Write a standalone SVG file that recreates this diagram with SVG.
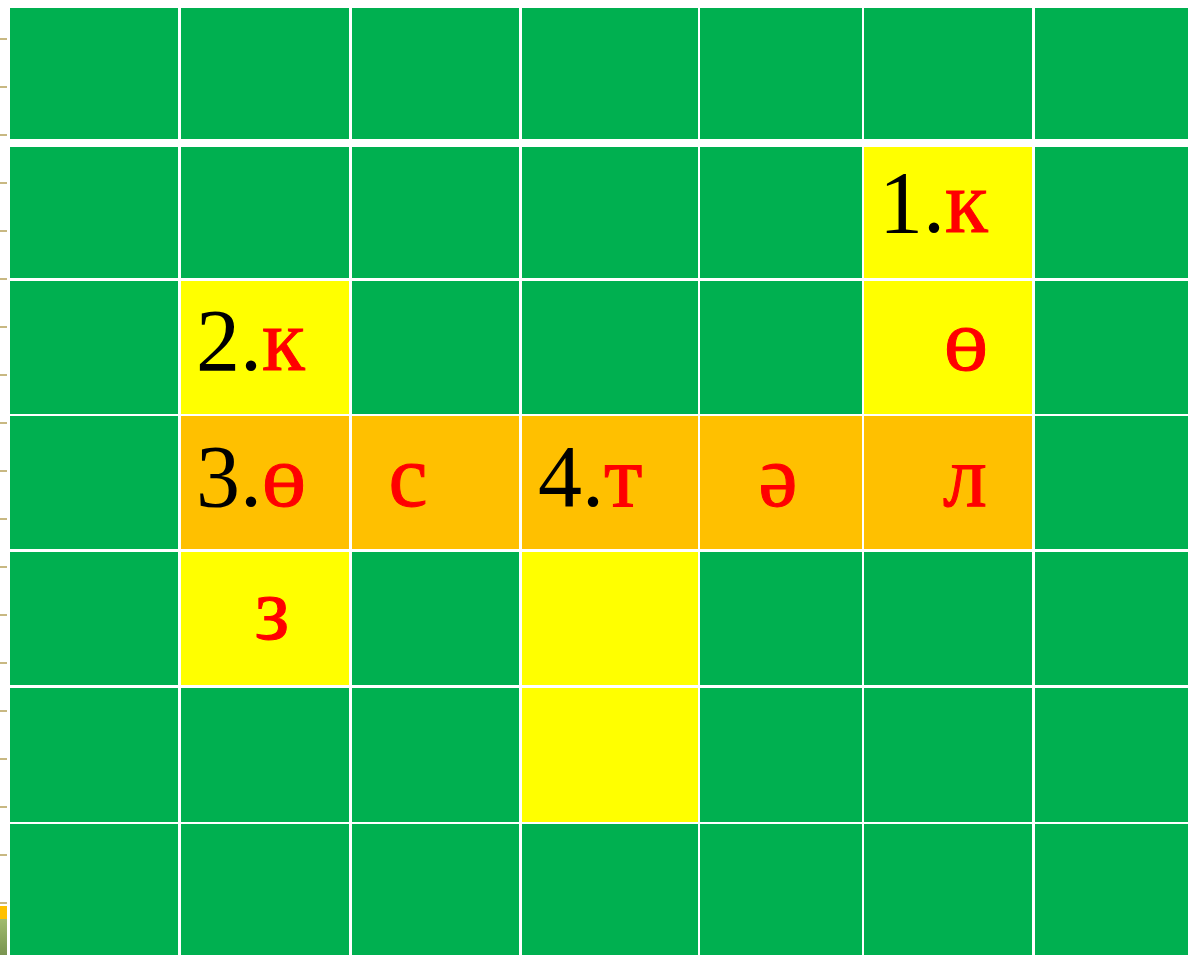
<svg xmlns="http://www.w3.org/2000/svg" width="1188" height="955" viewBox="0 0 1188 955">
<style>
.g{fill:#00B050}
.y{fill:#FFFF00}
.o{fill:#FFC000}
.tk{fill:#C8B882}
.t{font-family:"Liberation Serif","Times New Roman",serif;font-size:88px;fill:#000}
.r{font-family:"Liberation Serif","Times New Roman",serif;font-size:88px;font-weight:normal;fill:#FF0000;stroke:#FF0000;stroke-width:1}
.rc{text-anchor:middle}
</style>
<defs>
<linearGradient id="olive" x1="0" y1="0" x2="0" y2="1">
<stop offset="0" stop-color="#A0BB6E"/>
<stop offset="1" stop-color="#7A9450"/>
</linearGradient>
</defs>
<rect x="0" y="0" width="1188" height="955" fill="#FFFFFF"/>
<g id="margin-ticks">
<rect class="tk" x="0" y="38" width="7" height="2"/>
<rect class="tk" x="0" y="86" width="7" height="2"/>
<rect class="tk" x="0" y="134" width="7" height="2"/>
<rect class="tk" x="0" y="182" width="7" height="2"/>
<rect class="tk" x="0" y="230" width="7" height="2"/>
<rect class="tk" x="0" y="278" width="7" height="2"/>
<rect class="tk" x="0" y="326" width="7" height="2"/>
<rect class="tk" x="0" y="374" width="7" height="2"/>
<rect class="tk" x="0" y="422" width="7" height="2"/>
<rect class="tk" x="0" y="470" width="7" height="2"/>
<rect class="tk" x="0" y="518" width="7" height="2"/>
<rect class="tk" x="0" y="566" width="7" height="2"/>
<rect class="tk" x="0" y="614" width="7" height="2"/>
<rect class="tk" x="0" y="662" width="7" height="2"/>
<rect class="tk" x="0" y="710" width="7" height="2"/>
<rect class="tk" x="0" y="758" width="7" height="2"/>
<rect class="tk" x="0" y="806" width="7" height="2"/>
<rect class="tk" x="0" y="854" width="7" height="2"/>
<rect class="tk" x="0" y="902" width="7" height="2"/>
<rect x="0" y="906" width="7" height="13" fill="#FFC000"/>
<rect x="0" y="919" width="7" height="36" fill="url(#olive)"/>
</g>
<g id="row0">
<rect id="c0-0" class="g" x="10" y="8" width="168" height="131"/>
<rect id="c0-1" class="g" x="181" y="8" width="168" height="131"/>
<rect id="c0-2" class="g" x="352" y="8" width="167" height="131"/>
<rect id="c0-3" class="g" x="522" y="8" width="176" height="131"/>
<rect id="c0-4" class="g" x="700" y="8" width="162" height="131"/>
<rect id="c0-5" class="g" x="864" y="8" width="168" height="131"/>
<rect id="c0-6" class="g" x="1035" y="8" width="153" height="131"/>
</g>
<g id="row1">
<rect id="c1-0" class="g" x="10" y="147" width="168" height="131"/>
<rect id="c1-1" class="g" x="181" y="147" width="168" height="131"/>
<rect id="c1-2" class="g" x="352" y="147" width="167" height="131"/>
<rect id="c1-3" class="g" x="522" y="147" width="176" height="131"/>
<rect id="c1-4" class="g" x="700" y="147" width="162" height="131"/>
<g id="c1-5"><rect class="y" x="864" y="147" width="168" height="131"/><text class="t" x="879" y="232">1.<tspan class="r">к</tspan></text></g>
<rect id="c1-6" class="g" x="1035" y="147" width="153" height="131"/>
</g>
<g id="row2">
<rect id="c2-0" class="g" x="10" y="281" width="168" height="133"/>
<g id="c2-1"><rect class="y" x="181" y="281" width="168" height="133"/><text class="t" x="196" y="370">2.<tspan class="r">к</tspan></text></g>
<rect id="c2-2" class="g" x="352" y="281" width="167" height="133"/>
<rect id="c2-3" class="g" x="522" y="281" width="176" height="133"/>
<rect id="c2-4" class="g" x="700" y="281" width="162" height="133"/>
<g id="c2-5"><rect class="y" x="864" y="281" width="168" height="133"/><text class="r rc" x="966" y="370">ө</text></g>
<rect id="c2-6" class="g" x="1035" y="281" width="153" height="133"/>
</g>
<g id="row3">
<rect id="c3-0" class="g" x="10" y="416" width="168" height="133"/>
<g id="c3-1"><rect class="o" x="181" y="416" width="168" height="133"/><text class="t" x="196" y="506">3.<tspan class="r">ө</tspan></text></g>
<g id="c3-2"><rect class="o" x="352" y="416" width="167" height="133"/><text class="r rc" x="408" y="506">с</text></g>
<g id="c3-3"><rect class="o" x="522" y="416" width="176" height="133"/><text class="t" x="538" y="506">4.<tspan class="r">т</tspan></text></g>
<g id="c3-4"><rect class="o" x="700" y="416" width="162" height="133"/><text class="r rc" x="778" y="506">ә</text></g>
<g id="c3-5"><rect class="o" x="864" y="416" width="168" height="133"/><text class="r rc" x="965" y="506">л</text></g>
<rect id="c3-6" class="g" x="1035" y="416" width="153" height="133"/>
</g>
<g id="row4">
<rect id="c4-0" class="g" x="10" y="552" width="168" height="133"/>
<g id="c4-1"><rect class="y" x="181" y="552" width="168" height="133"/><text class="r rc" x="272" y="639">з</text></g>
<rect id="c4-2" class="g" x="352" y="552" width="167" height="133"/>
<rect id="c4-3" class="y" x="522" y="552" width="176" height="133"/>
<rect id="c4-4" class="g" x="700" y="552" width="162" height="133"/>
<rect id="c4-5" class="g" x="864" y="552" width="168" height="133"/>
<rect id="c4-6" class="g" x="1035" y="552" width="153" height="133"/>
</g>
<g id="row5">
<rect id="c5-0" class="g" x="10" y="688" width="168" height="134"/>
<rect id="c5-1" class="g" x="181" y="688" width="168" height="134"/>
<rect id="c5-2" class="g" x="352" y="688" width="167" height="134"/>
<rect id="c5-3" class="y" x="522" y="688" width="176" height="134"/>
<rect id="c5-4" class="g" x="700" y="688" width="162" height="134"/>
<rect id="c5-5" class="g" x="864" y="688" width="168" height="134"/>
<rect id="c5-6" class="g" x="1035" y="688" width="153" height="134"/>
</g>
<g id="row6">
<rect id="c6-0" class="g" x="10" y="824" width="168" height="131"/>
<rect id="c6-1" class="g" x="181" y="824" width="168" height="131"/>
<rect id="c6-2" class="g" x="352" y="824" width="167" height="131"/>
<rect id="c6-3" class="g" x="522" y="824" width="176" height="131"/>
<rect id="c6-4" class="g" x="700" y="824" width="162" height="131"/>
<rect id="c6-5" class="g" x="864" y="824" width="168" height="131"/>
<rect id="c6-6" class="g" x="1035" y="824" width="153" height="131"/>
</g>
<g id="connectors"/>
</svg>
